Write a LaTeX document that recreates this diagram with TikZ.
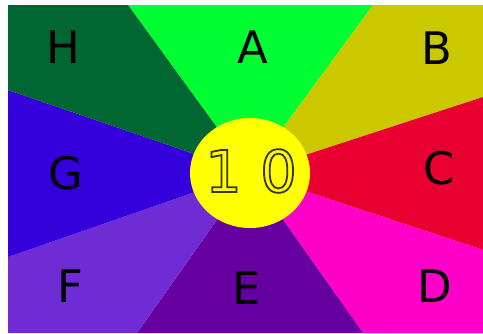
\documentclass[tikz,border=0pt]{standalone}
\usepackage{fontspec}
\setmainfont{DejaVu Sans}
\definecolor{cH}{RGB}{0,102,50}
\definecolor{cA}{RGB}{0,255,50}
\definecolor{cB}{RGB}{204,200,0}
\definecolor{cC}{RGB}{232,0,48}
\definecolor{cD}{RGB}{255,0,200}
\definecolor{cE}{RGB}{102,0,160}
\definecolor{cF}{RGB}{112,44,212}
\definecolor{cG}{RGB}{52,0,220}
\definecolor{cY}{RGB}{255,255,0}
\newcommand{\outlinetext}[1]{{\color{cY}\special{pdf:literal direct 0.22 0.2 0 RG 1.8 w 2 Tr}#1\special{pdf:literal direct 0 Tr}}}
\begin{document}
\begin{tikzpicture}[x=1bp,y=-1bp,
  lbl/.style={font=\fontsize{45}{45}\selectfont, text=black, inner sep=0pt, anchor=center}]
\useasboundingbox (0,0) rectangle (483,333);
\fill[white] (0,0) rectangle (483,333);
\coordinate (O) at (250,173);
\coordinate (HA) at (128,5);
\coordinate (AB) at (373,5);
\coordinate (BC) at (483,97);
\coordinate (CD) at (483,250);
\coordinate (DE) at (363,333);
\coordinate (EF) at (137,333);
\coordinate (FG) at (8,257);
\coordinate (GH) at (8,90);
\fill[cA] (O) -- (HA) -- (AB) -- cycle;
\fill[cB] (O) -- (AB) -- (483,5) -- (BC) -- cycle;
\fill[cC] (O) -- (BC) -- (CD) -- cycle;
\fill[cD] (O) -- (CD) -- (483,333) -- (DE) -- cycle;
\fill[cE] (O) -- (DE) -- (EF) -- cycle;
\fill[cF] (O) -- (EF) -- (8,333) -- (FG) -- cycle;
\fill[cG] (O) -- (FG) -- (GH) -- cycle;
\fill[cH] (O) -- (GH) -- (8,5) -- (HA) -- cycle;
\fill[cY] (O) ellipse [x radius=60, y radius=55];
\node[inner sep=0pt] (num) at (251,171) {\fontsize{58}{58}\selectfont\outlinetext{1 0}};
\node[lbl] (H) at (63,47) {H};
\node[lbl] (A) at (253,47) {A};
\node[lbl] (B) at (437,48) {B};
\node[lbl] (C) at (439,168) {C};
\node[lbl] (D) at (435,286) {D};
\node[lbl] (E) at (247,288) {E};
\node[lbl] (F) at (70,286) {F};
\node[lbl] (G) at (66,173) {G};
\end{tikzpicture}
\end{document}
